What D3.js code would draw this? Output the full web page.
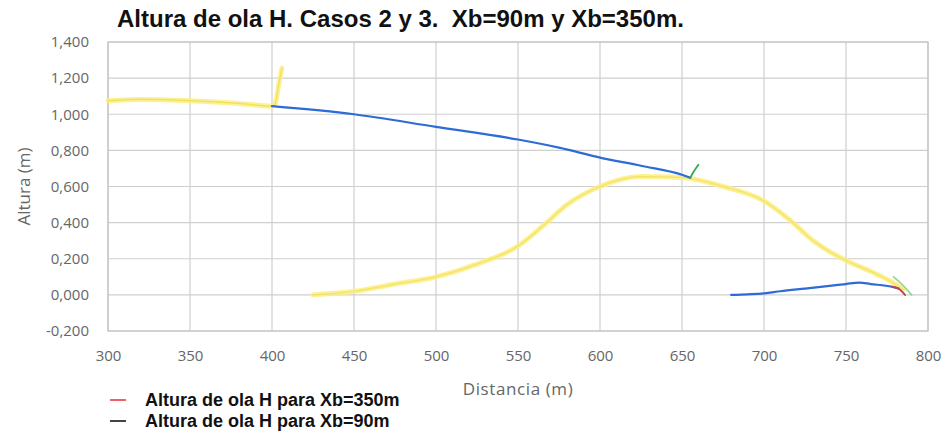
<!DOCTYPE html>
<html>
<head>
<meta charset="utf-8">
<script src="https://cdn.jsdelivr.net/npm/d3@7"></script>
<style>
  body { margin: 0; background: #fff; }
  svg { display: block; }
</style>
</head>
<body>
<div id="chart"></div>
<script>
const FRAME_WIDTH = 945;
const FRAME_HEIGHT = 435;
const MARGINS = { left: 108, right: 17, top: 42, bottom: 104 };

// tick values
const xTicks = [300, 350, 400, 450, 500, 550, 600, 650, 700, 750, 800];
const yTicks = [-0.2, 0, 0.2, 0.4, 0.6, 0.8, 1.0, 1.2, 1.4];

// Xb=350m, first reach (yellow)
const yellowA_x = [300, 320, 350, 380, 400, 402, 404, 406];
const yellowA_y = [1.075, 1.082, 1.075, 1.06, 1.045, 1.06, 1.16, 1.255];

// Xb=350m, second reach (yellow)
const yellowB_x = [425, 440, 450, 475, 500, 525, 550, 565, 580, 600, 625, 650, 675, 700, 715, 730, 750, 765, 780, 785];
const yellowB_y = [0.0, 0.01, 0.02, 0.06, 0.1, 0.17, 0.27, 0.38, 0.5, 0.6, 0.655, 0.65, 0.6, 0.52, 0.42, 0.3, 0.19, 0.13, 0.06, 0.03];

// Xb=90m, first reach (blue)
const blueA_x = [400, 450, 500, 550, 575, 600, 625, 650, 655];
const blueA_y = [1.045, 1.0, 0.93, 0.86, 0.815, 0.76, 0.715, 0.665, 0.648];
const greenA_x = [655, 657, 660];
const greenA_y = [0.648, 0.68, 0.72];

// Xb=90m, second reach (blue)
const blueB_x = [680, 690, 700, 710, 725, 740, 750, 758, 765, 778, 782];
const blueB_y = [0.0, 0.003, 0.008, 0.02, 0.035, 0.05, 0.06, 0.068, 0.06, 0.045, 0.035];
const redB_x = [778, 782, 786];
const redB_y = [0.045, 0.035, 0.0];
const greenB_x = [779, 784, 790];
const greenB_y = [0.1, 0.06, 0.0];

const legendLabels = ["Altura de ola H para Xb=350m", "Altura de ola H para Xb=90m"];
const legendColors = ["#f0606a", "#444444"];

const VIS_WIDTH = FRAME_WIDTH - MARGINS.left - MARGINS.right;
const VIS_HEIGHT = FRAME_HEIGHT - MARGINS.top - MARGINS.bottom;

const svg = d3.select("#chart")
  .append("svg")
  .attr("width", FRAME_WIDTH)
  .attr("height", FRAME_HEIGHT);

const X_SCALE = d3.scaleLinear().domain([300, 800]).range([MARGINS.left, MARGINS.left + VIS_WIDTH]);
const Y_SCALE = d3.scaleLinear().domain([-0.2, 1.4]).range([MARGINS.top + VIS_HEIGHT, MARGINS.top]);

const locale = d3.formatLocale({ decimal: ",", thousands: ".", grouping: [3], currency: ["", ""], minus: "-" });
const fmt = locale.format(".3f");

// title
svg.append("text")
  .attr("x", 117)
  .attr("y", 27)
  .attr("font-family", "Liberation Sans, Arial, sans-serif")
  .attr("font-weight", "bold")
  .attr("font-size", "24px")
  .attr("fill", "#111")
  .style("white-space", "pre")
  .text("Altura de ola H. Casos 2 y 3.  Xb=90m y Xb=350m.");

// grid
svg.append("g")
  .selectAll("line")
  .data(yTicks)
  .enter()
  .append("line")
  .attr("x1", MARGINS.left)
  .attr("x2", MARGINS.left + VIS_WIDTH)
  .attr("y1", d => Y_SCALE(d))
  .attr("y2", d => Y_SCALE(d))
  .attr("stroke", "#cfcfcf")
  .attr("stroke-width", 1.2);

svg.append("g")
  .selectAll("line")
  .data(xTicks)
  .enter()
  .append("line")
  .attr("x1", d => X_SCALE(d))
  .attr("x2", d => X_SCALE(d))
  .attr("y1", MARGINS.top)
  .attr("y2", MARGINS.top + VIS_HEIGHT)
  .attr("stroke", "#cfcfcf")
  .attr("stroke-width", 1.2);

svg.append("rect")
  .attr("x", MARGINS.left)
  .attr("y", MARGINS.top)
  .attr("width", VIS_WIDTH)
  .attr("height", VIS_HEIGHT)
  .attr("fill", "none")
  .attr("stroke", "#c4c4c4")
  .attr("stroke-width", 1.2);

// axes (labels only)
const yAxis = svg.append("g")
  .attr("transform", "translate(" + (MARGINS.left - 16) + ",0)")
  .call(d3.axisLeft(Y_SCALE).tickValues(yTicks).tickFormat(fmt).tickSize(0));
const xAxis = svg.append("g")
  .attr("transform", "translate(0," + (MARGINS.top + VIS_HEIGHT + 16) + ")")
  .call(d3.axisBottom(X_SCALE).tickValues(xTicks).tickSize(0));

[yAxis, xAxis].forEach(a => {
  a.select(".domain").remove();
  a.selectAll("text")
    .attr("font-family", "Open Sans, DejaVu Sans, sans-serif")
    .attr("font-size", "15px")
    .attr("fill", "#666");
});

// axis titles
svg.append("text")
  .attr("x", MARGINS.left + VIS_WIDTH / 2)
  .attr("y", 395)
  .attr("text-anchor", "middle")
  .attr("font-family", "Open Sans, DejaVu Sans, sans-serif")
  .attr("font-size", "17px")
  .attr("letter-spacing", "0.6px")
  .attr("fill", "#666")
  .text("Distancia (m)");

svg.append("text")
  .attr("transform", "translate(30," + (MARGINS.top + VIS_HEIGHT / 2) + ") rotate(-90)")
  .attr("text-anchor", "middle")
  .attr("font-family", "Open Sans, DejaVu Sans, sans-serif")
  .attr("font-size", "17px")
  .attr("fill", "#666")
  .text("Altura (m)");

// lines
const line = d3.line()
  .x(d => X_SCALE(d[0]))
  .y(d => Y_SCALE(d[1]))
  .curve(d3.curveMonotoneX);

function drawLine(xs, ys, color, width, opacity) {
  svg.append("path")
    .datum(d3.zip(xs, ys))
    .attr("d", line)
    .attr("fill", "none")
    .attr("stroke", color)
    .attr("stroke-width", width)
    .attr("stroke-opacity", opacity)
    .attr("stroke-linecap", "round")
    .attr("stroke-linejoin", "round");
}

drawLine(yellowA_x, yellowA_y, "#fcef80", 5, 0.85);
drawLine(yellowA_x, yellowA_y, "#e6d23c", 1.2, 0.6);
drawLine(yellowB_x, yellowB_y, "#fcef80", 5, 0.85);
drawLine(yellowB_x, yellowB_y, "#e9d444", 1.2, 0.5);

drawLine(blueA_x, blueA_y, "#2d6bd6", 2.2, 1);
drawLine(greenA_x, greenA_y, "#3aa550", 1.8, 1);

drawLine(greenB_x, greenB_y, "#8fd28a", 1.8, 0.9);
drawLine(blueB_x, blueB_y, "#2d6bd6", 2.2, 1);
drawLine(redB_x, redB_y, "#c04060", 2, 1);

// legend
const legend = svg.append("g")
  .selectAll("g")
  .data(legendLabels)
  .enter()
  .append("g")
  .attr("transform", (d, i) => "translate(110," + (400 + i * 21) + ")");

legend.append("line")
  .attr("x1", 0)
  .attr("x2", 16)
  .attr("y1", 0)
  .attr("y2", 0)
  .attr("stroke", (d, i) => legendColors[i])
  .attr("stroke-width", 2);

legend.append("text")
  .attr("x", 35)
  .attr("y", 6)
  .attr("font-family", "Liberation Sans, Arial, sans-serif")
  .attr("font-weight", "bold")
  .attr("font-size", "18px")
  .attr("fill", "#111")
  .text(d => d);
</script>
</body>
</html>
